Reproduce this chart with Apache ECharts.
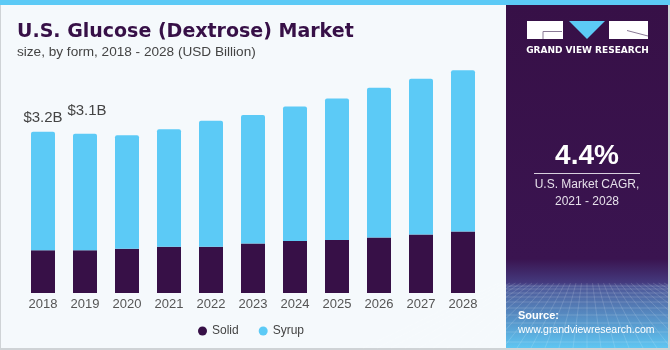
<!DOCTYPE html>
<html>
<head>
<meta charset="utf-8">
<script src="https://cdn.jsdelivr.net/npm/echarts@6/dist/echarts.min.js"></script>
<style>
  html, body { margin: 0; padding: 0; background: #f5f9fc; }
  #chart { width: 670px; height: 350px; }
</style>
</head>
<body>
<div id="chart"></div>
<script>
var years = ['2018', '2019', '2020', '2021', '2022', '2023', '2024', '2025', '2026', '2027', '2028'];
var solid = [0.85, 0.85, 0.88, 0.92, 0.92, 0.98, 1.03, 1.05, 1.10, 1.16, 1.22];
var syrup = [2.35, 2.31, 2.25, 2.33, 2.50, 2.55, 2.67, 2.81, 2.97, 3.09, 3.20];
var totalLabels = ['$3.2B', '$3.1B', '', '', '', '', '', '', '', '', ''];

var purple = '#371047';
var blue = '#5ccaf6';

var myChart = echarts.init(document.getElementById('chart'));

// syrup sits on top, so the total labels hang off it
var syrupData = syrup.map(function (v, i) {
    var item = { value: v };
    if (totalLabels[i]) {
        item.label = {
            show: true,
            position: 'top',
            formatter: totalLabels[i],
            distance: i === 0 ? 6 : 15,
            offset: i === 0 ? [0, 0] : [2, 0]
        };
    }
    return item;
});

// faint perspective mesh at the bottom of the side panel (decoration only)
var mesh = [];
var hy = [286, 289, 293, 297, 302, 308, 315, 323, 332, 342];
hy.forEach(function (y) {
    mesh.push({ type: 'line', shape: { x1: 506, y1: y, x2: 668, y2: y },
        style: { stroke: 'rgba(255,255,255,0.16)', lineWidth: 1 } });
});
for (var k = -16; k <= 16; k++) {
    mesh.push({ type: 'line', shape: { x1: 587 + k * 5.5, y1: 283, x2: 587 + k * 14, y2: 348 },
        style: { stroke: 'rgba(255,255,255,0.14)', lineWidth: 1 } });
}

var option = {
    backgroundColor: '#f5f9fc',
    animation: false,
    title: {
        text: 'U.S. Glucose (Dextrose) Market',
        subtext: 'size, by form, 2018 - 2028 (USD Billion)',
        left: 12,
        top: 15,
        itemGap: 0,
        textStyle: {
            fontFamily: 'DejaVu Sans',
            fontWeight: 'bold',
            fontSize: 19,
            lineHeight: 24,
            color: purple
        },
        subtextStyle: {
            fontFamily: 'Liberation Sans',
            fontSize: 13.6,
            lineHeight: 16,
            color: '#444'
        }
    },
    legend: {
        data: ['Solid', 'Syrup'],
        left: 193,
        top: 320,
        icon: 'circle',
        itemWidth: 9,
        itemHeight: 9,
        itemGap: 20,
        textStyle: { fontFamily: 'Liberation Sans', fontSize: 12, color: '#444' }
    },
    grid: { left: 22, right: 186, top: 41, bottom: 57 },
    xAxis: {
        type: 'category',
        data: years,
        axisLine: { show: false },
        axisTick: { show: false },
        axisLabel: { margin: 5, fontFamily: 'Liberation Sans', fontSize: 13, color: '#555' }
    },
    yAxis: {
        type: 'value',
        min: 0,
        max: 5,
        show: false,
        splitLine: { show: false }
    },
    series: [
        {
            name: 'Solid',
            type: 'bar',
            stack: 'total',
            barWidth: 24,
            itemStyle: { color: purple },
            data: solid
        },
        {
            name: 'Syrup',
            type: 'bar',
            stack: 'total',
            barWidth: 24,
            itemStyle: { color: blue, borderRadius: [2, 2, 0, 0] },
            label: {
                show: false,
                fontFamily: 'Liberation Sans',
                fontSize: 15,
                color: '#444'
            },
            data: syrupData
        }
    ],
    graphic: [
        // top strip
        { type: 'rect', shape: { x: 0, y: 0, width: 670, height: 5 }, style: { fill: blue }, z: 10 },
        // frame
        { type: 'rect', shape: { x: 0, y: 5, width: 1, height: 345 }, style: { fill: '#cfd3d6' } },
        { type: 'rect', shape: { x: 0, y: 348, width: 670, height: 2 }, style: { fill: '#cfd3d6' } },
        // right panel
        {
            type: 'rect',
            shape: { x: 506, y: 5, width: 162, height: 343 },
            style: {
                fill: new echarts.graphic.LinearGradient(0, 0, 0, 1, [
                    { offset: 0, color: purple },
                    { offset: 0.74, color: '#3a1450' },
                    { offset: 0.81, color: '#443a7e' },
                    { offset: 0.82, color: '#4e5898' },
                    { offset: 1, color: '#5fc6f2' }
                ])
            }
        },
        { type: 'group', children: mesh },
        { type: 'rect', shape: { x: 668, y: 0, width: 2, height: 350 }, style: { fill: '#cfd3d6' } },
        // logo blocks
        { type: 'rect', shape: { x: 527, y: 21, width: 36, height: 18 }, style: { fill: '#fff' } },
        { type: 'polyline', shape: { points: [[562, 31.5], [543, 31.5], [543, 39]] }, style: { stroke: '#8a7a96', lineWidth: 1, fill: null } },
        { type: 'polygon', shape: { points: [[569, 21], [605, 21], [587, 39]] }, style: { fill: blue } },
        { type: 'rect', shape: { x: 609, y: 21, width: 39, height: 18 }, style: { fill: '#fff' } },
        { type: 'line', shape: { x1: 627, y1: 30.5, x2: 648, y2: 36 }, style: { stroke: '#8a7a96', lineWidth: 1 } },
        {
            type: 'text', x: 587.5, y: 51,
            style: {
                text: 'GRAND VIEW RESEARCH', fill: '#fff', align: 'center', verticalAlign: 'middle',
                font: 'bold 9px "DejaVu Sans"'
            }
        },
        // CAGR block
        {
            type: 'text', x: 587, y: 156,
            style: { text: '4.4%', fill: '#fff', align: 'center', verticalAlign: 'middle', font: 'bold 28px "Liberation Sans"' }
        },
        { type: 'rect', shape: { x: 534, y: 173, width: 106, height: 1 }, style: { fill: '#d8d0de' } },
        {
            type: 'text', x: 587, y: 185,
            style: { text: 'U.S. Market CAGR,', fill: '#e6e0ea', align: 'center', verticalAlign: 'middle', font: '12px "Liberation Sans"' }
        },
        {
            type: 'text', x: 587, y: 202,
            style: { text: '2021 - 2028', fill: '#e6e0ea', align: 'center', verticalAlign: 'middle', font: '12px "Liberation Sans"' }
        },
        // source
        {
            type: 'text', x: 518, y: 316,
            style: { text: 'Source:', fill: '#fff', verticalAlign: 'middle', font: 'bold 11px "Liberation Sans"' }
        },
        {
            type: 'text', x: 518, y: 330,
            style: { text: 'www.grandviewresearch.com', fill: '#fff', verticalAlign: 'middle', font: '10.5px "Liberation Sans"' }
        }
    ]
};

myChart.setOption(option);
window.addEventListener('resize', function () {
    myChart.resize();
});
</script>
</body>
</html>
